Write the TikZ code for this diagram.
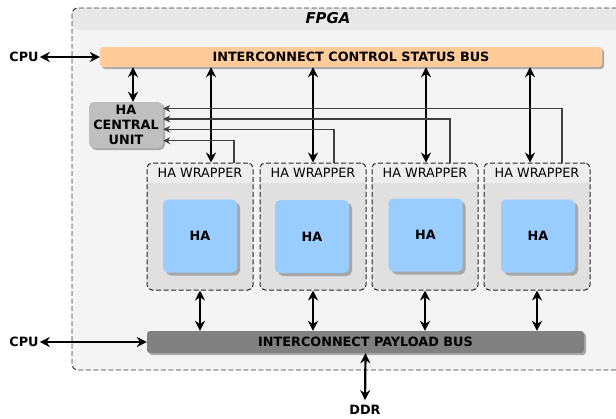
\documentclass[tikz,border=0pt]{standalone}
\usepackage{fontspec}
\setmainfont{DejaVu Sans}
\usetikzlibrary{arrows.meta,shadows}
\definecolor{ctrlc}{HTML}{FFCC99}
\definecolor{cuc}{HTML}{BFBFBF}
\definecolor{hac}{HTML}{99CCFF}
\definecolor{payc}{HTML}{808080}
\definecolor{fpgabody}{HTML}{F4F4F4}
\definecolor{fpgahead}{HTML}{E8E8E8}
\definecolor{wrapbody}{HTML}{E0E0E0}
\definecolor{wraphead}{HTML}{EEEEEE}
\begin{document}
\begin{tikzpicture}[x=1pt,y=-1pt,
  font=\fontsize{12.8}{15}\selectfont,
  shad/.style={drop shadow={shadow xshift=2pt,shadow yshift=-2pt,opacity=0.3,fill=black}},
  bigshad/.style={drop shadow={shadow xshift=3pt,shadow yshift=-3pt,opacity=0.25,fill=black}},
  bus/.style={rounded corners=3pt,inner sep=0pt,font=\fontsize{12.8}{15}\selectfont\bfseries,shad},
  dashline/.style={dash pattern=on 5pt off 2.5pt},
  wrapper/.style={draw=black!85,dashline,line width=1pt,rounded corners=5pt,fill=wrapbody,
    minimum width=106pt,minimum height=127pt,inner sep=0pt,
    path picture={\fill[wraphead] (path picture bounding box.north west) rectangle ([yshift=-20pt]path picture bounding box.north east);}},
  habox/.style={fill=hac,rounded corners=5pt,minimum width=74pt,minimum height=73pt,inner sep=0pt,font=\fontsize{12.8}{15}\selectfont\bfseries,bigshad},
  lbl/.style={inner sep=1pt,font=\fontsize{12.8}{15}\selectfont\bfseries},
  big/.style={line width=2.2pt,{Stealth[length=10pt,width=10pt]}-{Stealth[length=10pt,width=10pt]}},
  fb/.style={line width=1.1pt,draw=black!75,-{Stealth[length=7pt,width=7pt]}}
]
\useasboundingbox (0,0) rectangle (616,418);
\clip (0,0) rectangle (616,418);

% FPGA container
\node[draw=black!80,dashline,line width=0.9pt,rounded corners=6pt,fill=fpgabody,
  minimum width=558pt,minimum height=362pt,inner sep=0pt,
  path picture={\fill[fpgahead] (path picture bounding box.north west) rectangle ([yshift=-22pt]path picture bounding box.north east);}]
  (fpga) at (351,189) {};
\node[font=\fontsize{14.9}{16}\selectfont\bfseries\itshape] (fpgat) at (328,18) {FPGA};

% buses
\node[bus,fill=ctrlc,minimum width=502pt,minimum height=20pt] (ctrl) at (351,57) {INTERCONNECT CONTROL STATUS BUS};
\node[bus,fill=payc,minimum width=437pt,minimum height=22pt] (pay) at (365.5,342) {INTERCONNECT PAYLOAD BUS};

% central unit
\node[fill=cuc,rounded corners=5pt,minimum width=74pt,minimum height=46pt,inner sep=0pt,
  align=center,font=\fontsize{12.8}{15}\selectfont\bfseries,shad] (cu) at (126,125) {HA\\CENTRAL\\UNIT};

% wrappers
\node[wrapper] (w1) at (200,226.5) {};
\node[wrapper] (w2) at (313,226.5) {};
\node[wrapper] (w3) at (425,226.5) {};
\node[wrapper] (w4) at (537,226.5) {};
\node (w1t) at (200,173) {HA WRAPPER};
\node (w2t) at (313,173) {HA WRAPPER};
\node (w3t) at (425,173) {HA WRAPPER};
\node (w4t) at (537,173) {HA WRAPPER};

% HA boxes
\node[habox] (ha1) at (200,236) {HA};
\node[habox] (ha2) at (312,236.5) {HA};
\node[habox] (ha3) at (425.5,235) {HA};
\node[habox] (ha4) at (538,236) {HA};

% external labels
\node[lbl] (cpu1) at (24,57) {CPU};
\node[lbl] (cpu2) at (24,342) {CPU};
\node[lbl] (ddr) at (365,410) {DDR};

% external arrows
\draw[big] (cpu1.east) -- (ctrl.west);
\draw[big] (cpu2.east) -- (pay.west);
\draw[big,shorten >=4pt] (pay.south) -- (ddr.north);

% control bus to central unit
\coordinate (cc) at ([xshift=7pt]cu.north);
\draw[big] (cc |- ctrl.south) -- (cc);

% control bus to wrappers
\coordinate (c1) at ([xshift=11pt]w1.north);
\coordinate (c2) at (w2.north);
\coordinate (c3) at ([xshift=1pt]w3.north);
\coordinate (c4) at ([xshift=-7pt]w4.north);
\foreach \c in {c1,c2,c3,c4} \draw[big] (\c |- ctrl.south) -- (\c);

% wrappers to payload bus
\foreach \w in {w1,w2,w3,w4} \draw[big] (\w.south) -- (\w.south |- pay.north);

% feedback lines to central unit
\draw[fb] ([xshift=34pt]w1.north) |- ([yshift=-15.7pt]cu.east);
\draw[fb] ([xshift=21pt]w2.north) |- ([yshift=-4.3pt]cu.east);
\draw[fb] ([xshift=25pt]w3.north) |- ([yshift=6pt]cu.east);
\draw[fb] ([xshift=25pt]w4.north) |- ([yshift=16.5pt]cu.east);
\end{tikzpicture}
\end{document}
